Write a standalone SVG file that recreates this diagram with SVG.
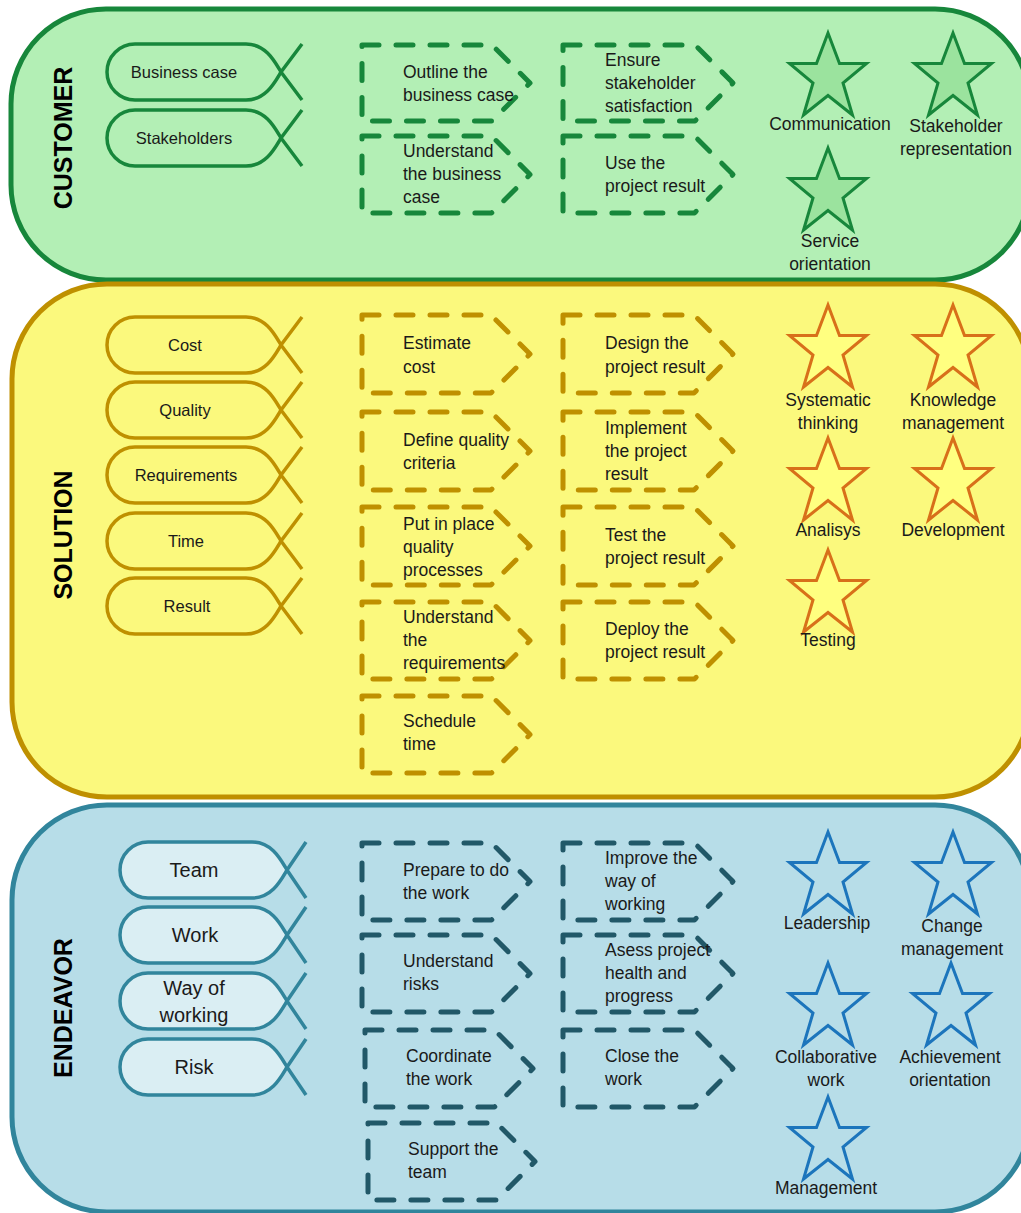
<svg xmlns="http://www.w3.org/2000/svg" xmlns:xlink="http://www.w3.org/1999/xlink" width="1021" height="1213" viewBox="0 0 1021 1213">
<style>
.t{font-family:"Liberation Sans",Arial,sans-serif;font-size:17.5px;fill:#1a1a1a}
.f{font-family:"Liberation Sans",Arial,sans-serif;font-size:16.5px;fill:#1a1a1a;text-anchor:middle}
.fe{font-family:"Liberation Sans",Arial,sans-serif;font-size:20px;fill:#1a1a1a;text-anchor:middle}
.m{text-anchor:middle}
.band-title{font-family:"Liberation Sans",Arial,sans-serif;font-size:25px;font-weight:bold;fill:#000;text-anchor:middle}
.dash{fill:none;stroke-width:5;stroke-dasharray:17 17;stroke-linecap:round;stroke-linejoin:round}
.fish{stroke-width:3.5}
.star{stroke-width:3}
</style>
<defs>
<path id="fishA" d="M135 -28 H246 C266 -28 275 -10 281 0 C275 10 266 28 246 28 H135 A28 28 0 0 1 135 -28 Z M281 0 L302 -28 M281 0 L302 28"/>
<path id="fishB" d="M148 -28 H252 C272 -28 281 -10 287 0 C281 10 272 28 252 28 H148 A28 28 0 0 1 148 -28 Z M287 0 L306 -28 M287 0 L306 28"/>
<polygon id="star" points="0,0 11.5,30.5 38.5,30.5 15,50 24.5,82 0,62.5 -24.5,82 -15,50 -38.5,30.5 -11.5,30.5"/>
</defs>

<!-- Bands -->
<g id="band-customer">
<rect x="11" y="9" width="1019" height="271" rx="95" ry="95" fill="#b3efb5" stroke="#17873b" stroke-width="5"/>
<text class="band-title" transform="translate(72,138) rotate(-90)">CUSTOMER</text>
</g>
<g id="band-solution">
<rect x="12" y="284" width="1018" height="513" rx="95" ry="95" fill="#fbf97d" stroke="#bf9000" stroke-width="5"/>
<text class="band-title" transform="translate(72,535) rotate(-90)">SOLUTION</text>
</g>
<g id="band-endeavor">
<rect x="12" y="805" width="1018" height="407" rx="95" ry="95" fill="#b7dde8" stroke="#31859c" stroke-width="5"/>
<text class="band-title" transform="translate(72,1008) rotate(-90)">ENDEAVOR</text>
</g>

<g id="connectors"></g>

<!-- Customer fish -->
<g id="fish-business-case"><use xlink:href="#fishA" transform="translate(0,72)" class="fish" fill="none" stroke="#17873b"/><text class="f" x="184" y="78">Business case</text></g>
<g id="fish-stakeholders"><use xlink:href="#fishA" transform="translate(0,138)" class="fish" fill="none" stroke="#17873b"/><text class="f" x="184" y="144">Stakeholders</text></g>

<!-- Solution fish -->
<g id="fish-cost"><use xlink:href="#fishA" transform="translate(0,345)" class="fish" fill="none" stroke="#bf9000"/><text class="f" x="185" y="351">Cost</text></g>
<g id="fish-quality"><use xlink:href="#fishA" transform="translate(0,410)" class="fish" fill="none" stroke="#bf9000"/><text class="f" x="185" y="416">Quality</text></g>
<g id="fish-requirements"><use xlink:href="#fishA" transform="translate(0,475)" class="fish" fill="none" stroke="#bf9000"/><text class="f" x="186" y="481">Requirements</text></g>
<g id="fish-time"><use xlink:href="#fishA" transform="translate(0,541)" class="fish" fill="none" stroke="#bf9000"/><text class="f" x="186" y="547">Time</text></g>
<g id="fish-result"><use xlink:href="#fishA" transform="translate(0,606)" class="fish" fill="none" stroke="#bf9000"/><text class="f" x="187" y="612">Result</text></g>

<!-- Endeavor fish -->
<g id="fish-team"><use xlink:href="#fishB" transform="translate(0,870)" class="fish" fill="#daeef3" stroke="#31859c"/><text class="fe" x="194" y="877">Team</text></g>
<g id="fish-work"><use xlink:href="#fishB" transform="translate(0,935)" class="fish" fill="#daeef3" stroke="#31859c"/><text class="fe" x="195" y="942">Work</text></g>
<g id="fish-way-of-working"><use xlink:href="#fishB" transform="translate(0,1001)" class="fish" fill="#daeef3" stroke="#31859c"/><text class="fe" x="194" y="995">Way of</text><text class="fe" x="194" y="1022">working</text></g>
<g id="fish-risk"><use xlink:href="#fishB" transform="translate(0,1067)" class="fish" fill="#daeef3" stroke="#31859c"/><text class="fe" x="194" y="1074">Risk</text></g>

<!-- Customer activities -->
<g id="act-outline"><path class="dash" stroke="#17873b" d="M362 45 H492 L530 83 L492 121 H362 Z"/><text class="t" x="403" y="78">Outline the</text><text class="t" x="403" y="101">business case</text></g>
<g id="act-understand-bc"><path class="dash" stroke="#17873b" d="M362 136 H491.5 L530 174.5 L491.5 213 H362 Z"/><text class="t" x="403" y="157">Understand</text><text class="t" x="403" y="180">the business</text><text class="t" x="403" y="203">case</text></g>
<g id="act-ensure"><path class="dash" stroke="#17873b" d="M563 45 H695 L733 83 L695 121 H563 Z"/><text class="t" x="605" y="66">Ensure</text><text class="t" x="605" y="89">stakeholder</text><text class="t" x="605" y="112">satisfaction</text></g>
<g id="act-use"><path class="dash" stroke="#17873b" d="M563 136 H694.5 L733 174.5 L694.5 213 H563 Z"/><text class="t" x="605" y="169">Use the</text><text class="t" x="605" y="192">project result</text></g>

<!-- Solution activities -->
<g id="act-estimate"><path class="dash" stroke="#bf9000" d="M362 315 H491 L530 354 L491 393 H362 Z"/><text class="t" x="403" y="349">Estimate</text><text class="t" x="403" y="373">cost</text></g>
<g id="act-define-quality"><path class="dash" stroke="#bf9000" d="M362 412 H491 L530 451 L491 490 H362 Z"/><text class="t" x="403" y="446">Define quality</text><text class="t" x="403" y="469">criteria</text></g>
<g id="act-put-in-place"><path class="dash" stroke="#bf9000" d="M362 507 H491 L530 546 L491 585 H362 Z"/><text class="t" x="403" y="530">Put in place</text><text class="t" x="403" y="553">quality</text><text class="t" x="403" y="576">processes</text></g>
<g id="act-understand-req"><path class="dash" stroke="#bf9000" d="M362 602 H491.5 L530 640.5 L491.5 679 H362 Z"/><text class="t" x="403" y="623">Understand</text><text class="t" x="403" y="646">the</text><text class="t" x="403" y="669">requirements</text></g>
<g id="act-schedule"><path class="dash" stroke="#bf9000" d="M362 696 H491.5 L530 734.5 L491.5 773 H362 Z"/><text class="t" x="403" y="727">Schedule</text><text class="t" x="403" y="750">time</text></g>
<g id="act-design"><path class="dash" stroke="#bf9000" d="M563 315 H694 L733 354 L694 393 H563 Z"/><text class="t" x="605" y="349">Design the</text><text class="t" x="605" y="373">project result</text></g>
<g id="act-implement"><path class="dash" stroke="#bf9000" d="M563 412 H694 L733 451 L694 490 H563 Z"/><text class="t" x="605" y="434">Implement</text><text class="t" x="605" y="457">the project</text><text class="t" x="605" y="480">result</text></g>
<g id="act-test"><path class="dash" stroke="#bf9000" d="M563 507 H694 L733 546 L694 585 H563 Z"/><text class="t" x="605" y="541">Test the</text><text class="t" x="605" y="564">project result</text></g>
<g id="act-deploy"><path class="dash" stroke="#bf9000" d="M563 602 H694.5 L733 640.5 L694.5 679 H563 Z"/><text class="t" x="605" y="635">Deploy the</text><text class="t" x="605" y="658">project result</text></g>

<!-- Endeavor activities -->
<g id="act-prepare"><path class="dash" stroke="#215868" d="M362 843 H491.5 L530 881.5 L491.5 920 H362 Z"/><text class="t" x="403" y="876">Prepare to do</text><text class="t" x="403" y="899">the work</text></g>
<g id="act-understand-risks"><path class="dash" stroke="#215868" d="M362 935 H491.5 L530 973.5 L491.5 1012 H362 Z"/><text class="t" x="403" y="967">Understand</text><text class="t" x="403" y="990">risks</text></g>
<g id="act-coordinate"><path class="dash" stroke="#215868" d="M365 1030 H494.5 L533 1068.5 L494.5 1107 H365 Z"/><text class="t" x="406" y="1062">Coordinate</text><text class="t" x="406" y="1085">the work</text></g>
<g id="act-support"><path class="dash" stroke="#215868" d="M368 1123 H496.5 L535 1161.5 L496.5 1200 H368 Z"/><text class="t" x="408" y="1155">Support the</text><text class="t" x="408" y="1178">team</text></g>
<g id="act-improve"><path class="dash" stroke="#215868" d="M563 843 H694.5 L733 881.5 L694.5 920 H563 Z"/><text class="t" x="605" y="864">Improve the</text><text class="t" x="605" y="887">way of</text><text class="t" x="605" y="910">working</text></g>
<g id="act-assess"><path class="dash" stroke="#215868" d="M563 935 H694.5 L733 973.5 L694.5 1012 H563 Z"/><text class="t" x="605" y="956">Asess project</text><text class="t" x="605" y="979">health and</text><text class="t" x="605" y="1002">progress</text></g>
<g id="act-close"><path class="dash" stroke="#215868" d="M563 1030 H694.5 L733 1068.5 L694.5 1107 H563 Z"/><text class="t" x="605" y="1062">Close the</text><text class="t" x="605" y="1085">work</text></g>

<!-- Customer competencies -->
<g id="star-communication"><use xlink:href="#star" x="828" y="33" class="star" fill="#9be39e" stroke="#17873b"/><text class="t m" x="830" y="130">Communication</text></g>
<g id="star-stakeholder-rep"><use xlink:href="#star" x="953" y="33" class="star" fill="#9be39e" stroke="#17873b"/><text class="t m" x="956" y="132">Stakeholder</text><text class="t m" x="956" y="155">representation</text></g>
<g id="star-service"><use xlink:href="#star" x="828" y="148" class="star" fill="#9be39e" stroke="#17873b"/><text class="t m" x="830" y="247">Service</text><text class="t m" x="830" y="270">orientation</text></g>

<!-- Solution competencies -->
<g id="star-systematic"><use xlink:href="#star" x="828" y="305" class="star" fill="#ffff80" stroke="#d8701a"/><text class="t m" x="828" y="406">Systematic</text><text class="t m" x="828" y="429">thinking</text></g>
<g id="star-knowledge"><use xlink:href="#star" x="953" y="305" class="star" fill="#ffff80" stroke="#d8701a"/><text class="t m" x="953" y="406">Knowledge</text><text class="t m" x="953" y="429">management</text></g>
<g id="star-analisys"><use xlink:href="#star" x="828" y="438" class="star" fill="#ffff80" stroke="#d8701a"/><text class="t m" x="828" y="536">Analisys</text></g>
<g id="star-development"><use xlink:href="#star" x="953" y="438" class="star" fill="#ffff80" stroke="#d8701a"/><text class="t m" x="953" y="536">Development</text></g>
<g id="star-testing"><use xlink:href="#star" x="828" y="550" class="star" fill="#ffff80" stroke="#d8701a"/><text class="t m" x="828" y="646">Testing</text></g>

<!-- Endeavor competencies -->
<g id="star-leadership"><use xlink:href="#star" x="828" y="832" class="star" fill="none" stroke="#1c75bc"/><text class="t m" x="827" y="929">Leadership</text></g>
<g id="star-change"><use xlink:href="#star" x="953" y="832" class="star" fill="none" stroke="#1c75bc"/><text class="t m" x="952" y="932">Change</text><text class="t m" x="952" y="955">management</text></g>
<g id="star-collaborative"><use xlink:href="#star" x="828" y="963" class="star" fill="none" stroke="#1c75bc"/><text class="t m" x="826" y="1063">Collaborative</text><text class="t m" x="826" y="1086">work</text></g>
<g id="star-achievement"><use xlink:href="#star" x="951" y="963" class="star" fill="none" stroke="#1c75bc"/><text class="t m" x="950" y="1063">Achievement</text><text class="t m" x="950" y="1086">orientation</text></g>
<g id="star-management"><use xlink:href="#star" x="828" y="1097" class="star" fill="none" stroke="#1c75bc"/><text class="t m" x="826" y="1194">Management</text></g>
</svg>
